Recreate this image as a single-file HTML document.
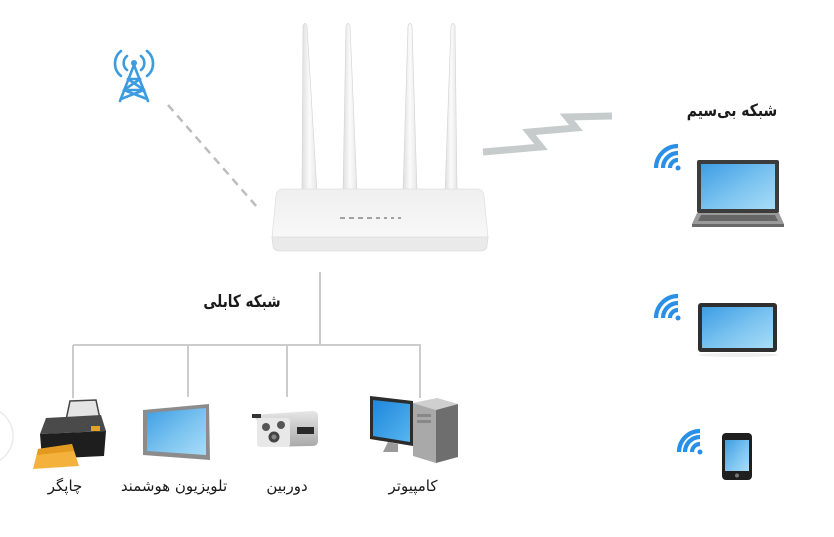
<!DOCTYPE html>
<html><head><meta charset="utf-8">
<style>
html,body{margin:0;padding:0;background:#fff;}
svg{display:block;}
text{font-family:"DejaVu Sans",sans-serif;fill:#1a1a1a;}
</style></head>
<body>
<svg width="834" height="537" viewBox="0 0 834 537" xmlns="http://www.w3.org/2000/svg">
<defs>
<linearGradient id="ant" x1="0" x2="1" y1="0" y2="0">
<stop offset="0" stop-color="#dedede"/><stop offset="0.5" stop-color="#fbfbfb"/><stop offset="1" stop-color="#e6e6e6"/>
</linearGradient>
<linearGradient id="body" x1="0" x2="0" y1="0" y2="1">
<stop offset="0" stop-color="#efefef"/><stop offset="1" stop-color="#f8f8f8"/>
</linearGradient>
<linearGradient id="scr" x1="0" x2="1" y1="0" y2="1">
<stop offset="0" stop-color="#3d9de4"/><stop offset="0.55" stop-color="#7cc4f0"/><stop offset="1" stop-color="#a9dcf7"/>
</linearGradient>
<linearGradient id="scr2" x1="0" x2="1" y1="0" y2="1">
<stop offset="0" stop-color="#1f86dc"/><stop offset="1" stop-color="#56b6ef"/>
</linearGradient>
<linearGradient id="cam" x1="0" x2="0" y1="0" y2="1">
<stop offset="0" stop-color="#e6e6e6"/><stop offset="1" stop-color="#a8a8a8"/>
</linearGradient>
</defs>

<!-- faint circle left edge -->
<circle cx="-16" cy="436" r="29" fill="none" stroke="#ebebeb" stroke-width="1.5"/>

<!-- tower icon -->
<g stroke="#3d9be0" stroke-width="2.6" fill="none" stroke-linecap="round">
<circle cx="134" cy="63" r="3" fill="#3d9be0" stroke="none"/>
<line x1="134" y1="65" x2="120" y2="101"/>
<line x1="134" y1="65" x2="148" y2="101"/>
<line x1="128" y1="79" x2="140" y2="79"/>
<line x1="124" y1="90" x2="144" y2="90"/>
<line x1="128" y1="79" x2="144" y2="90"/>
<line x1="140" y1="79" x2="124" y2="90"/>
<line x1="124" y1="90" x2="147" y2="99"/>
<line x1="144" y1="90" x2="121" y2="99"/>
<path d="M127,56 A9,9 0 0 0 127,70"/>
<path d="M121,51 A16,16 0 0 0 121,76"/>
<path d="M141,56 A9,9 0 0 1 141,70"/>
<path d="M147,51 A16,16 0 0 1 147,76"/>
</g>

<!-- dashed line -->
<line x1="168" y1="105" x2="257" y2="207" stroke="#bdbdbd" stroke-width="2.5" stroke-dasharray="8,6"/>

<!-- zigzag -->
<polyline points="483,152 541,147 529,132 576,128 567,117 612,116" fill="none" stroke="#c6cccb" stroke-width="7" stroke-linejoin="miter"/>

<!-- antennas -->
<g fill="url(#ant)" stroke="#d6d6d6" stroke-width="0.7">
<path d="M303,26 Q305,21 307,26 L317,193 L302,193 Z"/>
<path d="M346,26 Q348,21 350,26 L357,193 L343,193 Z"/>
<path d="M408,26 Q410,21 412,26 L417,193 L403,193 Z"/>
<path d="M451,26 Q453,21 455,26 L457,193 L445,193 Z"/>
</g>

<!-- router body -->
<path d="M283,189 L477,189 Q483,189 484,196 L488,238 L272,238 L276,196 Q277,189 283,189 Z" fill="url(#body)" stroke="#e0e0e0" stroke-width="0.8"/>
<path d="M272,237 L488,237 L487,246 Q486,251 479,251 L281,251 Q274,251 273,246 Z" fill="#eaeaea" stroke="#dcdcdc" stroke-width="0.8"/>
<g fill="#a2a2a2">
<rect x="340" y="217" width="5" height="2"/><rect x="349" y="217" width="5" height="2"/>
<rect x="358" y="217" width="5" height="2"/><rect x="367" y="217" width="5" height="2"/>
<rect x="376" y="217" width="4" height="2"/><rect x="384" y="217" width="3" height="2"/>
<rect x="391" y="217" width="3" height="2"/><rect x="398" y="217" width="3" height="2"/>
</g>

<!-- cable lines -->
<g stroke="#cccccc" stroke-width="2" fill="none">
<line x1="320" y1="272" x2="320" y2="345"/>
<line x1="73" y1="345" x2="421" y2="345"/>
<line x1="73" y1="345" x2="73" y2="398"/>
<line x1="188" y1="345" x2="188" y2="397"/>
<line x1="287" y1="345" x2="287" y2="397"/>
<line x1="420" y1="345" x2="420" y2="398"/>
</g>

<g transform="translate(242,307) scale(0.8,1)">
<text x="0" y="0" font-size="17" font-weight="bold" text-anchor="middle">شبکه کابلی</text>
</g>
<g transform="translate(732,116) scale(0.82,1)">
<text x="0" y="0" font-size="17" font-weight="bold" text-anchor="middle">شبکه بی&#8204;سیم</text>
</g>

<!-- printer -->
<path d="M70,401 L96,400 L100,419 L66,420 Z" fill="#e4e4e4" stroke="#444" stroke-width="1.5"/>
<path d="M46,418 L101,415 L106,431 L40,434 Z" fill="#4a4a4a"/>
<path d="M40,434 L106,431 L104,456 L42,459 Z" fill="#1e1e1e"/>
<rect x="91" y="426" width="9" height="5" fill="#e8a020"/>
<path d="M38,449 L72,444 L79,466 L33,469 Z" fill="#f4b23c"/>
<path d="M38,449 L72,444 L74,451 L37,455 Z" fill="#e49a20"/>

<!-- TV -->
<path d="M143,410 L209,404 L210,460 L143,455 Z" fill="#8c8c8c"/>
<path d="M147,413 L206,408 L206,455 L147,451 Z" fill="url(#scr)"/>

<!-- camera -->
<path d="M252,415 L312,411 Q318,411 318,416 L318,441 Q318,446 312,446 L262,447 Q257,447 257,442 L257,420 Z" fill="url(#cam)"/>
<rect x="257" y="418" width="33" height="29" rx="3" fill="#e8e8e8"/>
<circle cx="266" cy="427" r="4" fill="#555"/>
<circle cx="281" cy="425" r="4" fill="#555"/>
<circle cx="274" cy="437" r="5.5" fill="#444"/>
<circle cx="274" cy="437" r="2.5" fill="#888"/>
<rect x="297" y="427" width="17" height="7" fill="#2a2a2a"/>
<rect x="252" y="414" width="9" height="4" fill="#333"/>

<!-- computer -->
<path d="M413,403 L437,398 L458,404 L436,410 Z" fill="#cfcfcf"/>
<path d="M413,403 L436,410 L436,463 L413,456 Z" fill="#a9a9a9"/>
<path d="M436,410 L458,404 L458,457 L436,463 Z" fill="#6e6e6e"/>
<rect x="417" y="414" width="14" height="3" fill="#888"/>
<rect x="417" y="420" width="14" height="3" fill="#888"/>
<path d="M370,396 L413,401 L413,446 L370,439 Z" fill="#2c2c2c"/>
<path d="M373,400 L410,404 L410,442 L373,436 Z" fill="url(#scr2)"/>
<path d="M388,442 L398,444 L398,452 L383,452 Z" fill="#9a9a9a"/>

<!-- laptop -->
<rect x="697" y="160" width="82" height="53" rx="2" fill="#3c3c3c"/>
<rect x="701" y="164" width="74" height="45" fill="url(#scr)"/>
<path d="M697,213 L779,213 L784,224 L692,224 Z" fill="#9a9a9a"/>
<path d="M701,215 L775,215 L778,221 L698,221 Z" fill="#666"/>
<rect x="692" y="224" width="92" height="3" fill="#6a6a6a"/>

<!-- tablet -->
<ellipse cx="738" cy="355" rx="40" ry="2" fill="#eeeeee"/>
<rect x="698" y="303" width="79" height="49" rx="3" fill="#2f2f2f"/>
<rect x="702" y="307" width="71" height="41" fill="url(#scr)"/>

<!-- phone -->
<rect x="722" y="433" width="30" height="47" rx="4" fill="#1f1f1f"/>
<rect x="725" y="440" width="24" height="31" fill="url(#scr)"/>
<circle cx="737" cy="475.5" r="2" fill="#777"/>

<!-- wifi icons -->
<g fill="none" stroke="#2a8fe6" stroke-width="4.2" stroke-linecap="butt">
<path d="M670,168 A8,8 0 0 1 678,160"/>
<path d="M663,168 A15,15 0 0 1 678,153"/>
<path d="M656,168 A22,22 0 0 1 678,146"/>
<path d="M670,318 A8,8 0 0 1 678,310"/>
<path d="M663,318 A15,15 0 0 1 678,303"/>
<path d="M656,318 A22,22 0 0 1 678,296"/>
<path d="M692,452 A8,8 0 0 1 700,444"/>
<path d="M685,452 A15,15 0 0 1 700,437"/>
<path d="M679,452 A21,21 0 0 1 700,431"/>
</g>
<g fill="#2a8fe6">
<circle cx="678" cy="168" r="2.5"/>
<circle cx="678" cy="318" r="2.5"/>
<circle cx="700" cy="452" r="2.5"/>
</g>

<!-- labels -->
<text x="65" y="491" font-size="15" text-anchor="middle">چاپگر</text>
<text x="174" y="491" font-size="15" text-anchor="middle">تلویزیون هوشمند</text>
<text x="287" y="491" font-size="15" text-anchor="middle">دوربین</text>
<text x="413" y="491" font-size="15" text-anchor="middle">کامپیوتر</text>
</svg>
</body></html>
